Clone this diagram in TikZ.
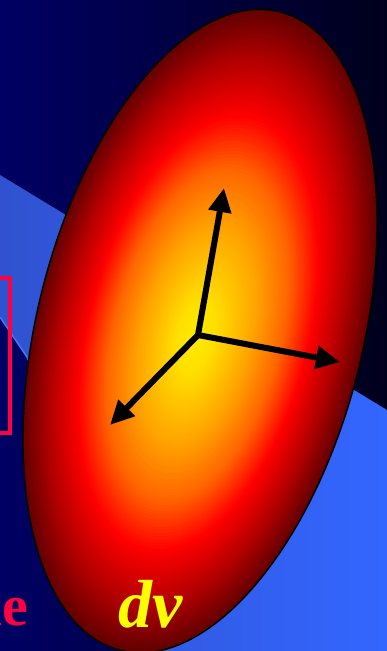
\documentclass[tikz,border=0pt]{standalone}
\usepackage{fontspec}
\setmainfont{Liberation Serif}
\usetikzlibrary{arrows.meta}
\definecolor{bgleft}{RGB}{0,0,100}
\definecolor{bgright}{RGB}{0,0,28}
\definecolor{bandleft}{RGB}{48,82,208}
\definecolor{bandright}{RGB}{51,102,255}
\definecolor{bandedge}{RGB}{70,120,255}
\definecolor{crimsonred}{RGB}{255,0,64}
\definecolor{textyellow}{RGB}{255,255,0}
\tikzset{
  vecarrow/.style={line width=6pt, black, -{Triangle[length=24pt,width=22pt]}},
  bigtext/.style={inner sep=0pt, font=\fontsize{58}{58}\selectfont\bfseries}
}
\begin{document}
\begin{tikzpicture}[x=1pt,y=1pt]
\useasboundingbox (0,0) rectangle (387,-651);
\clip (0,0) rectangle (387,-651);
% background
\shade[left color=bgleft, right color=bgright] (0,0) rectangle (387,-651);
% blue band
\shade[left color=bandleft, right color=bandright]
  (0,-175) -- (387,-410) -- (387,-651) -- (150,-651) -- (27,-357) -- (0,-317) -- cycle;
\draw[bandedge, line width=1.5pt] (0,-317) -- (27,-357) -- (150,-651);
% red rectangle
\draw[crimsonred, line width=4pt] (-20,-278) rectangle (10,-433);
% ellipse with radial gradient
\foreach \i in {100,99,...,1}{
  \pgfmathsetmacro{\t}{\i/100}
  \pgfmathtruncatemacro{\gg}{max(0,(\t<0.12 ? 235-100*\t : (\t<0.35 ? 223-270*(\t-0.12) : (\t<0.52 ? 161-360*(\t-0.35) : (\t<0.68 ? 100-625*(\t-0.52) : 0)))))}
  \pgfmathtruncatemacro{\rr}{max(0,(\t<0.68 ? 255 : (\t<0.86 ? 255-450*(\t-0.68) : 174-530*(\t-0.86))))}
  \pgfmathsetmacro{\cx}{195+5*\t}
  \pgfmathsetmacro{\cy}{-338+7*\t}
  \definecolor{ec}{RGB}{\rr,\gg,0}
  \fill[ec, rotate around={-14:(\cx,\cy)}] (\cx,\cy) ellipse ({163*\t} and {329*\t});
}
\draw[black, line width=1.5pt, rotate around={-14:(200,-331)}] (200,-331) ellipse (163 and 329);
% vectors
\coordinate (o) at (198,-335);
\coordinate (up) at (224,-188);
\coordinate (rt) at (340,-362);
\coordinate (dl) at (110,-425);
\draw[vecarrow] (o) -- (up);
\draw[vecarrow] (o) -- (rt);
\draw[vecarrow] (o) -- (dl);
% labels
\node[bigtext, anchor=base east, text=crimsonred] (le) at (28.5,-625) {le};
\node[bigtext, anchor=base west, text=textyellow, font=\fontsize{68}{68}\selectfont\bfseries\itshape] (dv) at (118,-627) {dv};
\end{tikzpicture}
\end{document}
